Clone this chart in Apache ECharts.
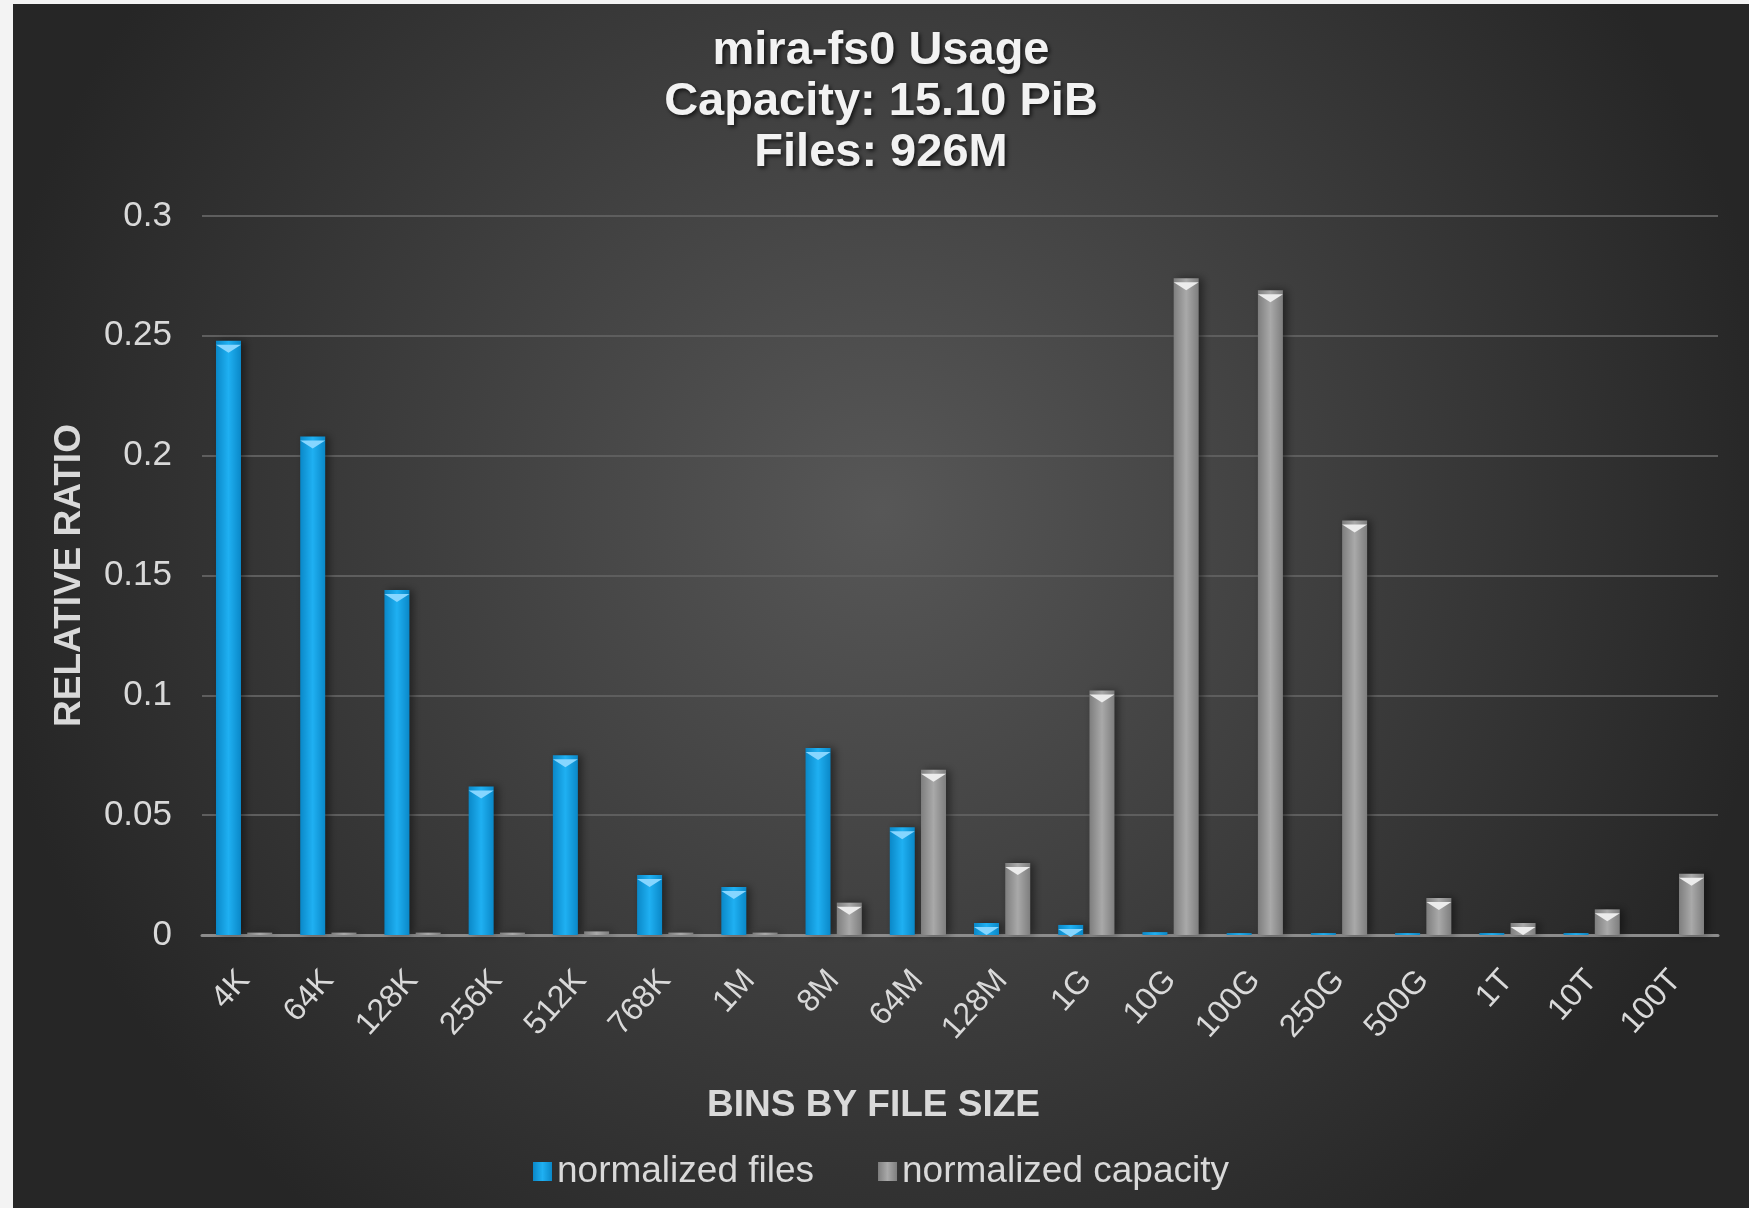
<!DOCTYPE html>
<html>
<head>
<meta charset="utf-8">
<title>mira-fs0 Usage</title>
<style>
  body { margin: 0; background: #f3f3f3; }
  #usage { position: absolute; left: 13px; top: 4px; width: 1736px; height: 1204px; }
</style>
</head>
<body>
<div id="usage"></div>
<script src="https://cdn.jsdelivr.net/npm/echarts@6/dist/echarts.min.js"></script>
<script>
// bins and the two normalized series
var bins = ['4K', '64K', '128K', '256K', '512K', '768K', '1M', '8M', '64M', '128M',
            '1G', '10G', '100G', '250G', '500G', '1T', '10T', '100T'];
var normFiles = [0.248, 0.208, 0.144, 0.062, 0.075, 0.025, 0.020, 0.078, 0.045, 0.005,
                 0.0042, 0.0012, 0.0008, 0.0008, 0.0008, 0.0008, 0.0008, 0];
var normCapacity = [0.001, 0.001, 0.001, 0.001, 0.0015, 0.001, 0.001, 0.0135, 0.069, 0.030,
                    0.102, 0.274, 0.269, 0.173, 0.0154, 0.005, 0.0107, 0.0256];
var yTicks = [0, 0.05, 0.1, 0.15, 0.2, 0.25, 0.3];

var FONT = '"Liberation Sans", Arial, sans-serif';

// little bevel on the top of each bar (skip the ones that are just a sliver)
function bevel(arr) {
    return arr.map(function (v) { return v >= 0.004 ? v : '-'; });
}

function hGrad(edge, mid) {
    return new echarts.graphic.LinearGradient(0, 0, 1, 0, [
        { offset: 0, color: edge },
        { offset: 0.5, color: mid },
        { offset: 1, color: edge }
    ]);
}

var chart = echarts.init(document.getElementById('usage'));
var option = {
    backgroundColor: {
        type: 'radial', x: 0.5, y: 0.42, r: 0.75,
        colorStops: [
            { offset: 0, color: '#575757' },
            { offset: 1, color: '#262626' }
        ]
    },
    animation: false,
    title: [{
        text: 'mira-fs0 Usage\nCapacity: 15.10 PiB\nFiles: 926M',
        left: 'center',
        top: 22,
        padding: 0,
        textStyle: {
            fontFamily: FONT, fontSize: 47, fontWeight: 'bold', color: '#f2f2f2',
            lineHeight: 51,
            textShadowColor: 'rgba(0,0,0,0.7)', textShadowBlur: 4,
            textShadowOffsetX: 2, textShadowOffsetY: 2
        }
    }, {
        text: 'BINS BY FILE SIZE',
        left: 694,
        top: 1083,
        padding: 0,
        textStyle: { fontFamily: FONT, fontSize: 37, fontWeight: 'bold', color: '#d9d9d9' }
    }],
    legend: {
        data: ['normalized files', 'normalized capacity'],
        left: 'center',
        top: 1144,
        itemWidth: 19,
        itemHeight: 19,
        itemGap: 64,
        icon: 'rect',
        textStyle: { fontFamily: FONT, fontSize: 37, color: '#d9d9d9' }
    },
    grid: { left: 189, right: 31, top: 212, bottom: 273 },
    xAxis: {
        type: 'category',
        data: bins,
        axisTick: { show: false },
        axisLine: { lineStyle: { color: '#8c8c8c', width: 3 } },
        axisLabel: {
            rotate: 48, margin: 40, interval: 0,
            fontFamily: FONT, fontSize: 32, color: '#d9d9d9'
        }
    },
    yAxis: {
        type: 'value',
        min: yTicks[0],
        max: yTicks[yTicks.length - 1],
        interval: 0.05,
        name: 'RELATIVE RATIO',
        nameLocation: 'middle',
        nameGap: 114,
        nameTextStyle: { fontFamily: FONT, fontSize: 37, fontWeight: 'bold', color: '#d9d9d9' },
        axisLine: { show: false },
        axisTick: { show: false },
        axisLabel: { margin: 30, fontFamily: FONT, fontSize: 35, color: '#d9d9d9' },
        splitLine: { lineStyle: { color: '#5e5e5e', width: 2 } }
    },
    series: [
        {
            name: 'normalized files',
            type: 'bar',
            barWidth: 25,
            barGap: '25%',
            data: normFiles,
            itemStyle: {
                color: hGrad('#0a88c8', '#1fb0f2'),
                shadowColor: 'rgba(0,0,0,0.45)', shadowBlur: 8, shadowOffsetX: 4
            }
        },
        {
            name: 'normalized capacity',
            type: 'bar',
            barWidth: 25,
            barGap: '25%',
            data: normCapacity,
            itemStyle: {
                color: hGrad('#7e7e7e', '#a9a9a9'),
                shadowColor: 'rgba(0,0,0,0.45)', shadowBlur: 8, shadowOffsetX: 4
            }
        },
        {
            name: 'files top',
            type: 'pictorialBar',
            barWidth: 25,
            barGap: '25%',
            symbol: 'path://M0,0 L20,0 L10,8 Z',
            symbolSize: [25, 8],
            symbolPosition: 'end',
            symbolOffset: [0, '50%'],
            z: 5,
            silent: true,
            itemStyle: { color: '#86d6ff' },
            data: bevel(normFiles)
        },
        {
            name: 'capacity top',
            type: 'pictorialBar',
            barWidth: 25,
            barGap: '25%',
            symbol: 'path://M0,0 L20,0 L10,8 Z',
            symbolSize: [25, 8],
            symbolPosition: 'end',
            symbolOffset: [0, '50%'],
            z: 5,
            silent: true,
            itemStyle: { color: '#ececec' },
            data: bevel(normCapacity)
        }
    ]
};
chart.setOption(option);
</script>
</body>
</html>
